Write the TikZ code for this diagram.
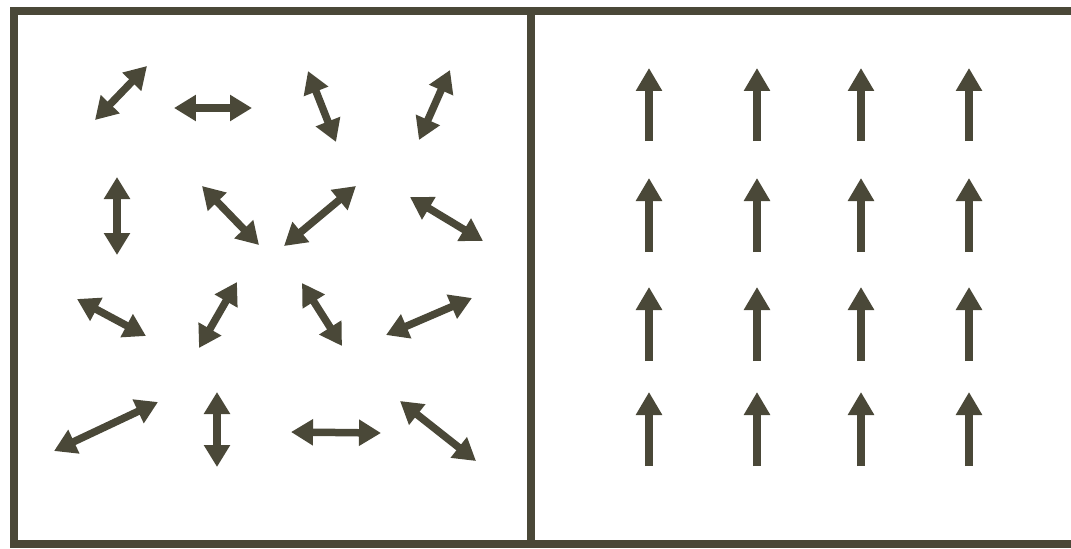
\documentclass[tikz,border=0pt]{standalone}
\usepackage{xcolor}
\usepackage{tikz}
\usetikzlibrary{arrows.meta}
\definecolor{inkgray}{HTML}{4A4838}

\begin{document}
\begin{tikzpicture}[
  x=0.02cm, y=-0.02cm,
  frame/.style={draw=inkgray, line width=0.16cm, line cap=rect},
  spin/.style={{Triangle[length=0.44cm, width=0.5cm]}-{Triangle[length=0.44cm, width=0.5cm]}, draw=inkgray, line width=0.15cm},
  upspin/.style={-{Triangle[length=0.46cm, width=0.5cm]}, draw=inkgray, line width=0.16cm}
]
  \useasboundingbox (0,0) rectangle (1071,548);

  % frame of both panels
  \draw[frame] (1071,11) -- (14,11) -- (14,544) -- (1071,544);
  \draw[frame] (531,11) -- (531,544);

  % left panel: random orientations
  \foreach \xa/\ya/\xb/\yb [count=\i] in {
      95/120/147/66, 174/108/252/108, 308/71/336/142, 450/70/419/140,
      117/177/117/255, 202/186/259/245, 284/246/356/186, 410/197/483/241,
      77/299/146/336, 199/348/237/282, 302/283/342/346, 386/335/472/298,
      54/451/158/402, 217/392/217/467, 291/432/381/433, 400/401/476/461}
  {
    \coordinate (p\i) at (\xa,\ya);
    \coordinate (q\i) at (\xb,\yb);
    \draw[spin] (p\i) -- (q\i);
  }

  % right panel: aligned
  \foreach \xc in {649, 757, 861, 969}
    \foreach \yt/\yl in {68/141, 178/252, 287/361, 392/466}
    {
      \coordinate (b) at (\xc,\yl);
      \coordinate (t) at (\xc,\yt);
      \draw[upspin] (b) -- (t);
    }
\end{tikzpicture}
\end{document}
